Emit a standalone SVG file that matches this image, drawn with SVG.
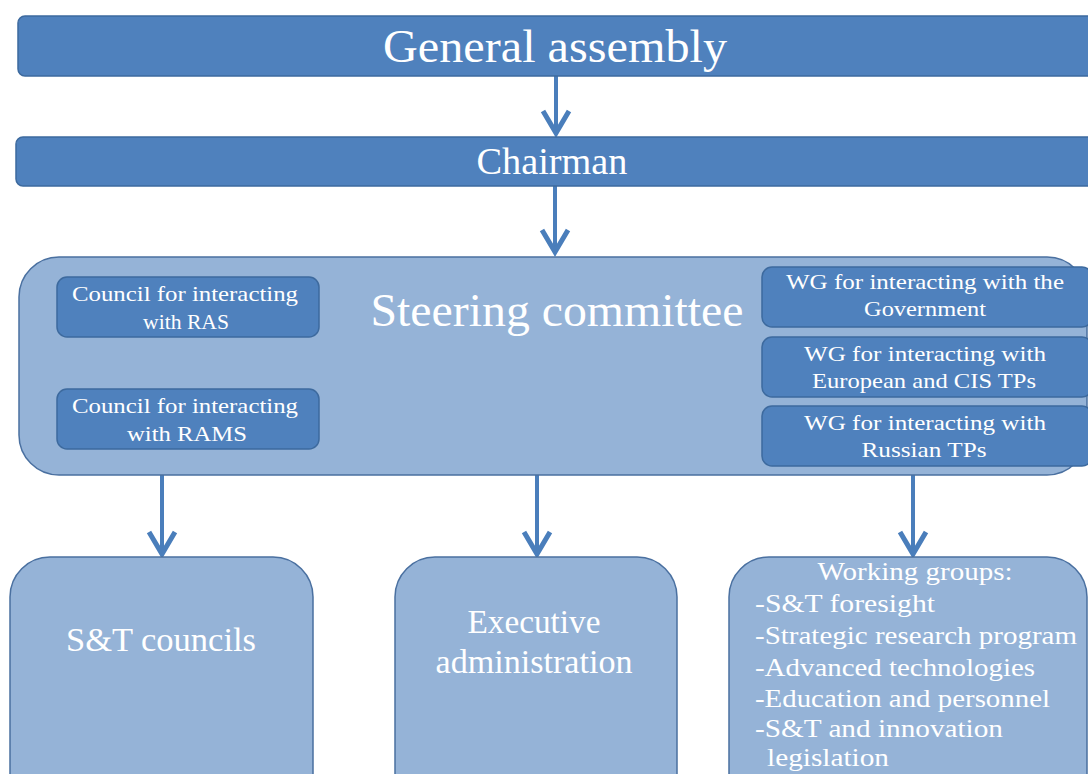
<svg xmlns="http://www.w3.org/2000/svg" width="1088" height="774" viewBox="0 0 1088 774">
<defs>
<style>
.dark{fill:#4F81BD;stroke:#3D6A9E;stroke-width:1.5}
.light{fill:#95B3D7;stroke:#4A70A0;stroke-width:1.5}
.t{fill:#FFFFFF;font-family:"Liberation Serif","DejaVu Serif",serif;text-anchor:middle}
.c{fill:#FFFFFF;font-family:"Liberation Serif","DejaVu Serif",serif;font-size:22px;text-anchor:middle}
.w{fill:#FFFFFF;font-family:"Liberation Serif","DejaVu Serif",serif;font-size:26px}
.ln{stroke:#4A7EBB;stroke-width:4;fill:none}
.hd{stroke:#4A7EBB;stroke-width:5;fill:none;stroke-linejoin:miter;stroke-linecap:butt}
</style>
</defs>
<rect width="1088" height="774" fill="#FFFFFF"/>

<g id="connectors">
<line class="ln" x1="556" y1="76" x2="556" y2="134"/>
<polyline class="hd" points="543,111 556,133 569,111"/>
<line class="ln" x1="555" y1="186" x2="555" y2="253"/>
<polyline class="hd" points="542,230 555,252 568,230"/>
<line class="ln" x1="162" y1="475" x2="162" y2="554"/>
<polyline class="hd" points="149,532 162,554 175,532"/>
<line class="ln" x1="537" y1="475" x2="537" y2="554"/>
<polyline class="hd" points="524,532 537,554 550,532"/>
<line class="ln" x1="913" y1="475" x2="913" y2="554"/>
<polyline class="hd" points="900,532 913,554 926,532"/>
</g>

<g id="general-assembly">
<rect class="dark" x="18" y="16" width="1090" height="60" rx="7"/>
<text class="t" x="555" y="62" font-size="47" textLength="344" lengthAdjust="spacingAndGlyphs">General assembly</text>
</g>

<g id="chairman">
<rect class="dark" x="16" y="137" width="1092" height="49" rx="7"/>
<text class="t" x="552" y="174" font-size="37" textLength="151" lengthAdjust="spacingAndGlyphs">Chairman</text>
</g>

<g id="steering-committee">
<rect class="light" x="19" y="257" width="1068" height="218" rx="40"/>
<text class="t" x="557" y="326" font-size="46" textLength="373" lengthAdjust="spacingAndGlyphs">Steering  committee</text>
</g>

<g id="council-ras">
<rect class="dark" x="57" y="277" width="262" height="60" rx="10"/>
<text class="c" x="185" y="301" textLength="226" lengthAdjust="spacingAndGlyphs">Council for interacting</text>
<text class="c" x="186" y="329" textLength="86" lengthAdjust="spacingAndGlyphs">with RAS</text>
</g>

<g id="council-rams">
<rect class="dark" x="57" y="389" width="262" height="60" rx="10"/>
<text class="c" x="185" y="413" textLength="226" lengthAdjust="spacingAndGlyphs">Council for interacting</text>
<text class="c" x="187" y="441" textLength="120" lengthAdjust="spacingAndGlyphs">with RAMS</text>
</g>

<g id="wg-government">
<rect class="dark" x="762" y="267" width="330" height="60" rx="10"/>
<text class="c" x="925" y="289" textLength="278" lengthAdjust="spacingAndGlyphs">WG for interacting with the</text>
<text class="c" x="925" y="316" textLength="122" lengthAdjust="spacingAndGlyphs">Government</text>
</g>

<g id="wg-european">
<rect class="dark" x="762" y="337" width="330" height="60" rx="10"/>
<text class="c" x="925" y="361" textLength="242" lengthAdjust="spacingAndGlyphs">WG for interacting with</text>
<text class="c" x="924" y="388" textLength="224" lengthAdjust="spacingAndGlyphs">European and CIS TPs</text>
</g>

<g id="wg-russian">
<rect class="dark" x="762" y="406" width="330" height="60" rx="10"/>
<text class="c" x="925" y="430" textLength="242" lengthAdjust="spacingAndGlyphs">WG for interacting with</text>
<text class="c" x="924" y="457" textLength="125" lengthAdjust="spacingAndGlyphs">Russian TPs</text>
</g>

<g id="st-councils">
<rect class="light" x="10" y="557" width="303" height="260" rx="40"/>
<text class="t" x="161" y="651" font-size="34" textLength="190" lengthAdjust="spacingAndGlyphs">S&amp;T councils</text>
</g>

<g id="executive-administration">
<rect class="light" x="395" y="557" width="282" height="260" rx="40"/>
<text class="t" x="534" y="633" font-size="34" textLength="133" lengthAdjust="spacingAndGlyphs">Executive</text>
<text class="t" x="534" y="673" font-size="34" textLength="197" lengthAdjust="spacingAndGlyphs">administration</text>
</g>

<g id="working-groups">
<rect class="light" x="729" y="557" width="358" height="260" rx="40"/>
<text class="t" x="915" y="580" font-size="26" textLength="195" lengthAdjust="spacingAndGlyphs">Working groups:</text>
<text class="w" x="755" y="612" textLength="180" lengthAdjust="spacingAndGlyphs">-S&amp;T foresight</text>
<text class="w" x="755" y="644" textLength="322" lengthAdjust="spacingAndGlyphs">-Strategic research program</text>
<text class="w" x="755" y="676" textLength="280" lengthAdjust="spacingAndGlyphs">-Advanced technologies</text>
<text class="w" x="755" y="707" textLength="295" lengthAdjust="spacingAndGlyphs">-Education and personnel</text>
<text class="w" x="755" y="737" textLength="248" lengthAdjust="spacingAndGlyphs">-S&amp;T and innovation</text>
<text class="w" x="767" y="766" textLength="122" lengthAdjust="spacingAndGlyphs">legislation</text>
</g>
</svg>
